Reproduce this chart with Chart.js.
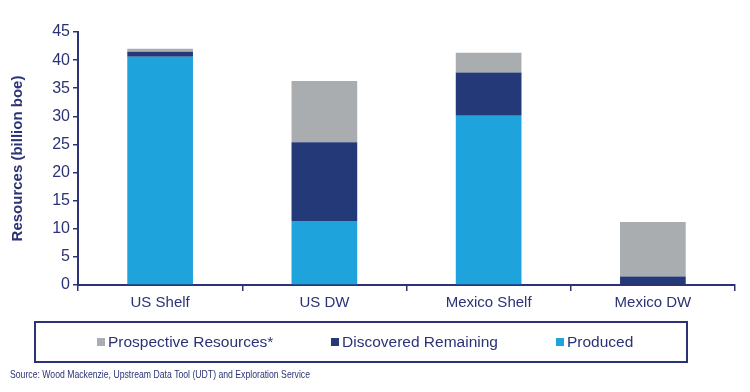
<!DOCTYPE html>
<html>
<head>
<meta charset="utf-8">
<script src="https://cdn.jsdelivr.net/npm/chart.js@4/dist/chart.umd.min.js"></script>
<style>
  html, body { margin: 0; padding: 0; background: #fff; }
  #wrap { width: 750px; height: 392px; position: relative; }
</style>
</head>
<body>
<div id="wrap"><canvas id="chart"></canvas></div>
<script>
// values (billion boe)
const regions = ['US Shelf', 'US DW', 'Mexico Shelf', 'Mexico DW'];
const produced = [40.6, 11.4, 30.1, 0];
const discovered = [0.9, 14.0, 7.7, 1.5];
const prospective = [0.5, 10.9, 3.5, 9.7];
const yTicks = [0, 5, 10, 15, 20, 25, 30, 35, 40, 45];
const sourceNote = 'Source: Wood Mackenzie, Upstream Data Tool (UDT) and Exploration Service';

const navy = '#2b3376';
const font = "'Liberation Sans', Arial, sans-serif";

// boxed legend + source line under the axis
const legendBox = {
  id: 'legendBox',
  afterDraw(chart) {
    const ctx = chart.ctx;
    ctx.save();
    ctx.strokeStyle = navy;
    ctx.lineWidth = 2;
    ctx.strokeRect(35, 322, 652, 40);

    const order = [2, 1, 0];
    const xs = [97, 331, 556];
    ctx.font = '15.5px ' + font;
    ctx.textBaseline = 'middle';
    order.forEach((di, i) => {
      const ds = chart.data.datasets[di];
      ctx.fillStyle = ds.backgroundColor;
      ctx.fillRect(xs[i], 338, 8, 8);
      ctx.fillStyle = navy;
      ctx.fillText(ds.label, xs[i] + 11, 343);
    });

    ctx.font = "11px 'Liberation Sans Narrow', " + font;
    ctx.fillStyle = navy;
    ctx.fillText(sourceNote, 10, 375, 300);
    ctx.restore();
  }
};

new Chart(document.getElementById('chart'), {
  type: 'bar',
  data: {
    labels: regions,
    datasets: [
      { label: 'Produced', data: produced, backgroundColor: '#1fa3dc' },
      { label: 'Discovered Remaining', data: discovered, backgroundColor: '#243a78' },
      { label: 'Prospective Resources*', data: prospective, backgroundColor: '#a9adb0' }
    ]
  },
  options: {
    responsive: true,
    maintainAspectRatio: false,
    animation: false,
    categoryPercentage: 1,
    barPercentage: 0.4,
    layout: { padding: { top: 32, right: 15, bottom: 0, left: 0 } },
    plugins: {
      legend: { display: false },
      tooltip: { enabled: false }
    },
    scales: {
      x: {
        stacked: true,
        afterFit: s => { s.height = 107; },
        grid: { offset: true, drawOnChartArea: false, drawTicks: true, tickLength: 6, color: navy, lineWidth: 1.5 },
        border: { color: navy, width: 2 },
        ticks: { color: navy, font: { family: font, size: 15 }, padding: 3 }
      },
      y: {
        stacked: true,
        min: 0,
        max: 45,
        afterBuildTicks: s => { s.ticks = yTicks.map(v => ({ value: v })); },
        afterFit: s => { s.width = 78; },
        grid: { drawOnChartArea: false, drawTicks: true, tickLength: 5, color: navy, lineWidth: 1.5 },
        border: { color: navy, width: 2 },
        ticks: { color: navy, font: { family: font, size: 16 }, padding: 3 },
        title: {
          display: true,
          text: 'Resources (billion boe)',
          color: navy,
          font: { family: font, size: 15, weight: 'bold' },
          padding: { top: 9, bottom: 0 }
        }
      }
    }
  },
  plugins: [legendBox]
});
</script>
</body>
</html>
